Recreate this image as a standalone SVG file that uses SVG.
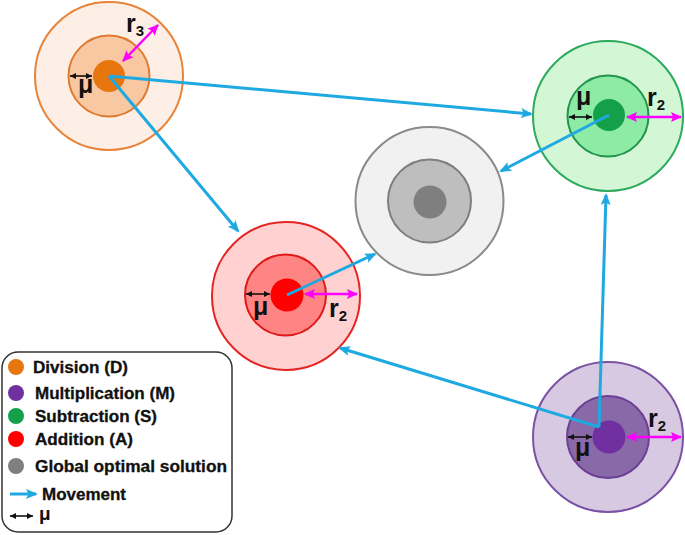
<svg xmlns="http://www.w3.org/2000/svg" width="685" height="535" viewBox="0 0 685 535">
<style>
.lbl{font-family:"Liberation Sans",Arial,sans-serif;font-weight:bold;fill:#111}
.big{font-size:25px}
.sub{font-size:15px}
.leg{font-size:16px;stroke:#111;stroke-width:0.3}
.mv{stroke:#1FA9E1;stroke-width:3;fill:none;marker-end:url(#blue)}
.mu{stroke:#111;stroke-width:1.6;fill:none;marker-start:url(#blk);marker-end:url(#blk)}
.rr{stroke:#FF00FF;stroke-width:2.5;fill:none;marker-start:url(#mag);marker-end:url(#mag)}
</style>
<defs>
<marker id="blue" markerUnits="userSpaceOnUse" markerWidth="14" markerHeight="12" refX="10" refY="5" orient="auto" viewBox="0 0 14 10">
<path d="M0,0 L12,5 L0,10 L2.5,5 z" fill="#1FA9E1"/>
</marker>
<marker id="blk" markerUnits="userSpaceOnUse" markerWidth="7" markerHeight="7" refX="6" refY="3" orient="auto-start-reverse" viewBox="0 0 7 6">
<path d="M0,0 L6,3 L0,6 z" fill="#111"/>
</marker>
<marker id="mag" markerUnits="userSpaceOnUse" markerWidth="12" markerHeight="12" refX="10" refY="5" orient="auto-start-reverse" viewBox="0 0 12 10">
<path d="M0,0 L11,5 L0,10 L2,5 z" fill="#FF00FF"/>
</marker>
</defs>
<rect width="685" height="535" fill="#fff"/>

<g id="node-division">
<circle cx="109" cy="76" r="74" fill="#FDEFE5" stroke="#E8843A" stroke-width="2"/>
<circle cx="109" cy="76" r="40.5" fill="#F7C8A2" stroke="#E07A2E" stroke-width="2"/>
<circle cx="109" cy="76" r="16" fill="#E8760F"/>
<line class="mu" x1="70" y1="76" x2="92" y2="76"/>
<text class="lbl big" x="78" y="93">μ</text>
<line class="rr" x1="158" y1="25" x2="123" y2="61"/>
<text class="lbl big" x="126" y="32">r<tspan class="sub" dy="4">3</tspan></text>
</g>

<g id="node-subtraction">
<circle cx="608" cy="116" r="75" fill="#D3F6D5" stroke="#2DAA5C" stroke-width="2"/>
<circle cx="608" cy="116" r="40.5" fill="#8DEBA5" stroke="#22944C" stroke-width="2"/>
<circle cx="609" cy="115" r="16" fill="#13A049"/>
<line class="mu" x1="569" y1="117" x2="592" y2="117"/>
<text class="lbl big" x="576" y="105">μ</text>
<line class="rr" x1="627" y1="117" x2="681" y2="117"/>
<text class="lbl big" x="647" y="106">r<tspan class="sub" dy="4">2</tspan></text>
</g>

<g id="node-global">
<circle cx="429.5" cy="201" r="74" fill="#F1F1F1" stroke="#8A8A8A" stroke-width="2"/>
<circle cx="429.5" cy="201" r="41.5" fill="#BEBEBE" stroke="#7E7E7E" stroke-width="2"/>
<circle cx="430" cy="202" r="16.5" fill="#7F7F7F"/>
</g>

<g id="node-addition">
<circle cx="286" cy="296" r="74" fill="#FFD1D1" stroke="#E52424" stroke-width="2"/>
<circle cx="285.5" cy="295" r="40.5" fill="#FF8585" stroke="#E01818" stroke-width="2"/>
<circle cx="287" cy="295" r="16.5" fill="#FF0000"/>
<line class="mu" x1="246" y1="294" x2="270" y2="294"/>
<text class="lbl big" x="253" y="315">μ</text>
<line class="rr" x1="305" y1="294" x2="357" y2="294"/>
<text class="lbl big" x="329" y="317">r<tspan class="sub" dy="4">2</tspan></text>
</g>

<g id="node-multiplication">
<circle cx="608" cy="437" r="75" fill="#D6C9E1" stroke="#7B52A3" stroke-width="2"/>
<circle cx="608" cy="437" r="41" fill="#8A69A8" stroke="#6A3F95" stroke-width="2"/>
<circle cx="609" cy="437" r="16.5" fill="#7030A0"/>
<line class="mu" x1="568" y1="437" x2="592" y2="437"/>
<text class="lbl big" x="575" y="456">μ</text>
<line class="rr" x1="627" y1="437" x2="681" y2="437"/>
<text class="lbl big" x="648" y="427">r<tspan class="sub" dy="4">2</tspan></text>
</g>

<g id="connectors">
<line class="mv" x1="109" y1="76" x2="531" y2="114"/>
<line class="mv" x1="109" y1="76" x2="238" y2="231"/>
<line class="mv" x1="609" y1="115" x2="501" y2="171"/>
<line class="mv" x1="287" y1="295" x2="375" y2="254"/>
<line class="mv" x1="599" y1="427" x2="606" y2="195"/>
<line class="mv" x1="599" y1="427" x2="340" y2="348"/>
</g>

<g id="legend">
<rect x="2" y="352" width="230" height="180" rx="16" fill="#fff" stroke="#333" stroke-width="1.5"/>
<circle cx="16" cy="367" r="8" fill="#E8760F"/>
<circle cx="16" cy="393" r="8" fill="#7030A0"/>
<circle cx="16" cy="416" r="8" fill="#13A049"/>
<circle cx="16" cy="439" r="8" fill="#FF0000"/>
<circle cx="16" cy="466" r="8" fill="#7F7F7F"/>
<text class="lbl leg" x="33" y="373" textLength="95" lengthAdjust="spacingAndGlyphs">Division (D)</text>
<text class="lbl leg" x="35" y="399" textLength="140" lengthAdjust="spacingAndGlyphs">Multiplication (M)</text>
<text class="lbl leg" x="35" y="422" textLength="122" lengthAdjust="spacingAndGlyphs">Subtraction (S)</text>
<text class="lbl leg" x="35" y="445" textLength="98" lengthAdjust="spacingAndGlyphs">Addition (A)</text>
<text class="lbl leg" x="35" y="472" textLength="192" lengthAdjust="spacingAndGlyphs">Global optimal solution</text>
<line class="mv" x1="10" y1="494" x2="36" y2="494"/>
<text class="lbl leg" x="42" y="500" textLength="84" lengthAdjust="spacingAndGlyphs">Movement</text>
<line class="mu" x1="10" y1="516" x2="33" y2="516"/>
<text class="lbl" style="font-size:19px" x="39" y="520">μ</text>
</g>
</svg>
